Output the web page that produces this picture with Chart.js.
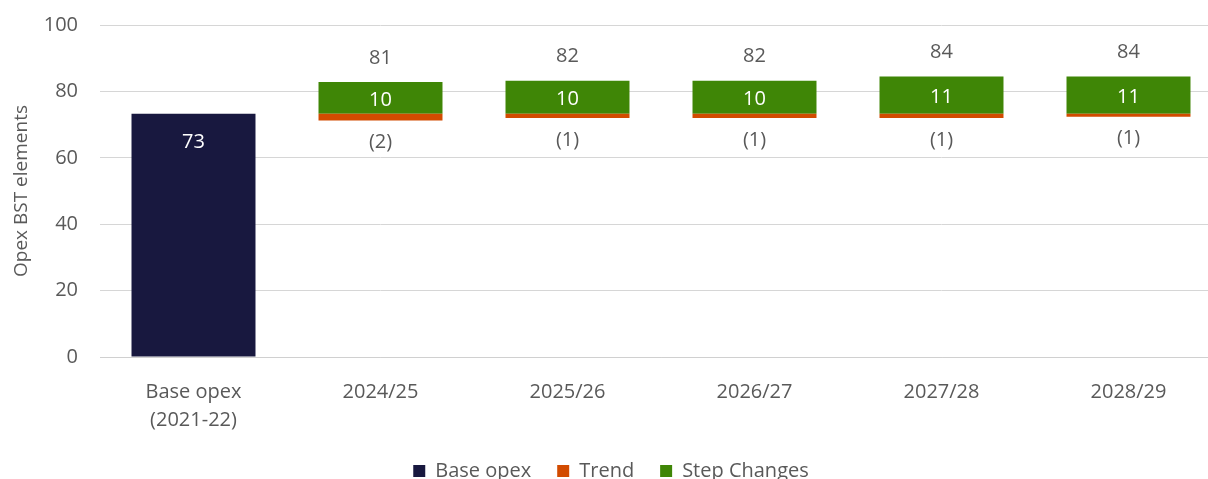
<!DOCTYPE html>
<html>
<head>
<meta charset="utf-8">
<script src="https://cdn.jsdelivr.net/npm/chart.js@4/dist/chart.umd.min.js"></script>
<style>
  html, body { margin: 0; padding: 0; background: #fff; overflow: hidden; }
  #wrap { position: relative; width: 1233px; height: 491px; }
</style>
</head>
<body>
<div id="wrap"><canvas id="opexChart"></canvas></div>
<script>
// values
const categories = [['Base opex', '(2021-22)'], '2024/25', '2025/26', '2026/27', '2027/28', '2028/29'];
const baseOpex = 73.3;
const trend = [-2.1, -1.3, -1.3, -1.3, -0.9];
const stepChanges = [9.5, 9.9, 9.9, 11.2, 11.2];
const totals = [81, 82, 82, 84, 84];
const yTicks = [0, 20, 40, 60, 80, 100];

const COLORS = { base: '#18183f', trend: '#d24b00', step: '#3f8606' };
const FONT = '"Open Sans", "Noto Sans", sans-serif';
const TEXT = '#595959';

const baseData = [baseOpex, null, null, null, null, null];
const trendData = [null].concat(trend.map(t => [baseOpex + t, baseOpex]));
const stepData = [null].concat(stepChanges.map(s => [baseOpex, baseOpex + s]));

const fmtNeg = v => '(' + Math.abs(Math.round(v)) + ')';

// draws the value labels next to the bars
const barLabels = {
  id: 'barLabels',
  afterDatasetsDraw(chart) {
    const ctx = chart.ctx;
    ctx.save();
    ctx.font = '20px ' + FONT;
    ctx.textAlign = 'center';
    ctx.textBaseline = 'middle';

    chart.getDatasetMeta(0).data.forEach((bar, i) => {
      if (baseData[i] == null) return;
      ctx.fillStyle = '#ffffff';
      ctx.fillText(Math.round(baseData[i]), bar.x, bar.y + 29);
    });

    chart.getDatasetMeta(1).data.forEach((bar, i) => {
      if (trendData[i] == null) return;
      const bottom = Math.max(bar.y, bar.base);
      ctx.fillStyle = TEXT;
      ctx.fillText(fmtNeg(trend[i - 1]), bar.x, bottom + 22);
    });

    chart.getDatasetMeta(2).data.forEach((bar, i) => {
      if (stepData[i] == null) return;
      const top = Math.min(bar.y, bar.base);
      const bottom = Math.max(bar.y, bar.base);
      ctx.fillStyle = '#ffffff';
      ctx.fillText(Math.round(stepChanges[i - 1]), bar.x, (top + bottom) / 2 + 2);
      ctx.fillStyle = TEXT;
      ctx.fillText(totals[i - 1], bar.x, top - 24);
    });
    ctx.restore();
  }
};

new Chart(document.getElementById('opexChart'), {
  type: 'bar',
  data: {
    labels: categories,
    datasets: [
      { label: 'Base opex', data: baseData, backgroundColor: COLORS.base },
      { label: 'Trend', data: trendData, backgroundColor: COLORS.trend },
      { label: 'Step Changes', data: stepData, backgroundColor: COLORS.step }
    ]
  },
  options: {
    responsive: true,
    maintainAspectRatio: false,
    animation: false,
    layout: { padding: { top: 25, right: 11, left: 0, bottom: 0 } },
    datasets: { bar: { grouped: false, barPercentage: 0.663, categoryPercentage: 1 } },
    scales: {
      x: {
        grid: { display: false },
        border: { color: '#d0d0d0' },
        ticks: { color: TEXT, font: { family: FONT, size: 20, lineHeight: 1.4 }, padding: 13, maxRotation: 0 },
        afterFit: s => { s.height = 78; }
      },
      y: {
        min: 0,
        max: 100,
        afterBuildTicks: s => { s.ticks = yTicks.map(v => ({ value: v })); },
        grid: { color: '#d6d6d6', drawTicks: false },
        border: { display: false },
        ticks: { color: TEXT, font: { family: FONT, size: 20 }, padding: 22 },
        title: { display: true, text: 'Opex BST elements', color: TEXT, font: { family: FONT, size: 19 }, padding: { top: 10, bottom: 0 } },
        afterFit: s => { s.width = 100; s.paddingTop = 0; s.paddingBottom = 0; }
      }
    },
    plugins: {
      legend: {
        position: 'bottom',
        labels: { color: TEXT, font: { family: FONT, size: 20 }, boxWidth: 12, boxHeight: 12, padding: 26 }
      },
      tooltip: { enabled: false }
    }
  },
  plugins: [barLabels]
});
</script>
</body>
</html>
